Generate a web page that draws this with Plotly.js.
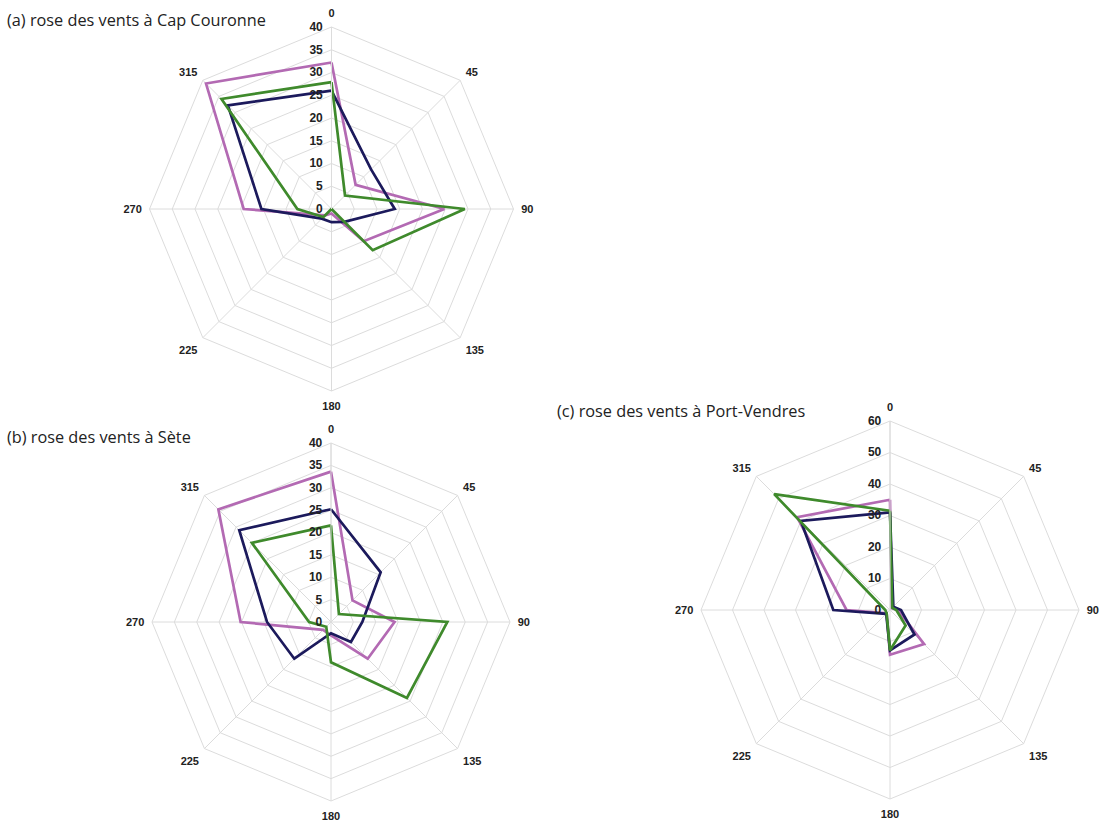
<!DOCTYPE html>
<html>
<head>
<meta charset="utf-8">
<script src="https://cdn.plot.ly/plotly-3.0.1.min.js"></script>
<style>html,body{margin:0;padding:0;background:#fff;}#chart{width:1112px;height:828px;}</style>
</head>
<body>
<div id="chart"></div>
<script>
// Wind directions (degrees)
const directions = ['0', '45', '90', '135', '180', '225', '270', '315'];

// (a) Cap Couronne
const capNavy  = [26, 12.3, 13.9, 4, 2.9, 3, 15.4, 32.2];
const capPink  = [32.2, 7.5, 24.8, 10, 1, 2, 19.3, 39];
const capGreen = [27.9, 4.2, 29.3, 12.8, 0, 2.5, 7.5, 34.2];

// (b) Sète
const seteNavy  = [25.2, 15.7, 7, 6.3, 2.5, 11.6, 14.3, 29];
const setePink  = [33.6, 6.8, 14.2, 11.6, 3, 2.5, 20.2, 35.6];
const seteGreen = [21.6, 2.5, 26, 24, 9, 1.5, 4.9, 25];

// (c) Port-Vendres
const pvNavy  = [31, 1.5, 3.5, 11, 12.8, 1.7, 18, 40];
const pvPink  = [35, 0.8, 2.5, 15.3, 14.2, 1.5, 13.8, 41.7];
const pvGreen = [31.5, 1, 2, 7, 12.8, 1.5, 1.5, 52];

const titles = [
  '(a) rose des vents à Cap Couronne',
  '(b) rose des vents à Sète',
  '(c) rose des vents à Port-Vendres'
];

const colPink = '#b36ab3';
const colNavy = '#1c1a5c';
const colGreen = '#3f8a2c';

function closed(arr) { return arr.concat([arr[0]]); }

function series(vals, color, subplot) {
  return {
    type: 'scatterpolar', mode: 'lines',
    r: closed(vals), theta: closed(directions),
    line: {color: color, width: 2.7},
    subplot: subplot, showlegend: false, hoverinfo: 'skip'
  };
}

const data = [
  series(capPink, colPink, 'polar'), series(capNavy, colNavy, 'polar'), series(capGreen, colGreen, 'polar'),
  series(setePink, colPink, 'polar2'), series(seteNavy, colNavy, 'polar2'), series(seteGreen, colGreen, 'polar2'),
  series(pvPink, colPink, 'polar3'), series(pvNavy, colNavy, 'polar3'), series(pvGreen, colGreen, 'polar3')
];

const angFont = {family: 'Liberation Sans, Arial, sans-serif', size: 11, color: '#222', weight: 'bold'};
const radFont = {family: 'Liberation Sans, Arial, sans-serif', size: 12, color: '#222', weight: 'bold'};
const gridCol = '#dcdcdc';

function polar(dx, dy, maxR, dt) {
  return {
    domain: {x: dx, y: dy},
    gridshape: 'linear',
    bgcolor: '#fff',
    angularaxis: {
      type: 'category', categoryarray: directions,
      direction: 'clockwise', rotation: 90,
      tickfont: angFont, showline: true, linecolor: gridCol, linewidth: 1,
      gridcolor: gridCol, ticks: 'outside', ticklen: 5, tickcolor: 'rgba(0,0,0,0)'
    },
    radialaxis: {
      range: [0, maxR], dtick: dt, tick0: 0, angle: 90, side: 'counterclockwise',
      tickangle: 90,
      tickfont: radFont, showline: true, linecolor: gridCol, gridcolor: gridCol,
      ticks: 'outside', ticklen: 4, tickcolor: 'rgba(0,0,0,0)', showticklabels: true
    }
  };
}

const W = 1112, H = 828;
function dom(cx, cy, rad) {
  return [[(cx - rad) / W, (cx + rad) / W], [(H - cy - rad) / H, (H - cy + rad) / H]];
}
const dA = dom(331.5, 209, 182);
const dB = dom(331, 622, 179);
const dC = dom(890, 610, 189);

const titleFont = {family: 'Open Sans, Noto Sans, sans-serif', size: 16.3, color: '#222'};

const layout = {
  width: W, height: H,
  margin: {l: 0, r: 0, t: 0, b: 0},
  paper_bgcolor: '#fff',
  showlegend: false,
  polar: polar(dA[0], dA[1], 40, 5),
  polar2: polar(dB[0], dB[1], 40, 5),
  polar3: polar(dC[0], dC[1], 60, 10),
  annotations: [
    {text: titles[0], xref: 'paper', yref: 'paper', x: 5 / W, y: 1 - 20 / H, xanchor: 'left', yanchor: 'middle', showarrow: false, font: titleFont},
    {text: titles[1], xref: 'paper', yref: 'paper', x: 5 / W, y: 1 - 437 / H, xanchor: 'left', yanchor: 'middle', showarrow: false, font: titleFont},
    {text: titles[2], xref: 'paper', yref: 'paper', x: 555 / W, y: 1 - 411 / H, xanchor: 'left', yanchor: 'middle', showarrow: false, font: titleFont}
  ]
};

Plotly.newPlot('chart', data, layout, {displayModeBar: false, staticPlot: true});
</script>
</body>
</html>
